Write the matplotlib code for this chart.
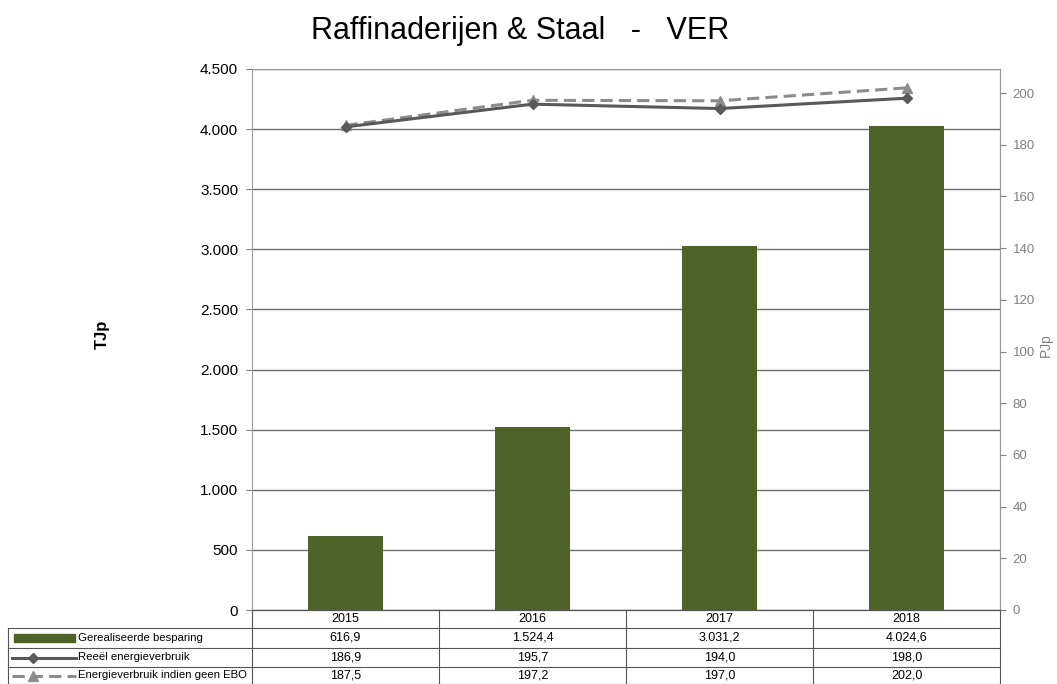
import matplotlib
matplotlib.use("Agg")
import matplotlib.pyplot as plt
from matplotlib.lines import Line2D
from matplotlib.patches import Rectangle

plt.rcParams['font.family'] = ['Liberation Sans', 'DejaVu Sans']

years = ["2015", "2016", "2017", "2018"]
besparing = [616.9, 1524.4, 3031.2, 4024.6]
reeel = [186.9, 195.7, 194.0, 198.0]
zonder_ebo = [187.5, 197.2, 197.0, 202.0]
series_names = ["Gerealiseerde besparing", "Reeël energieverbruik", "Energieverbruik indien geen EBO"]
fmt_bes = ["616,9", "1.524,4", "3.031,2", "4.024,6"]
fmt_reeel = ["186,9", "195,7", "194,0", "198,0"]
fmt_ebo = ["187,5", "197,2", "197,0", "202,0"]

W, H = 1057, 684
fig = plt.figure(figsize=(W / 100, H / 100), dpi=100)

def fx(px):
    return px / W

def fy(py):
    return 1 - py / H

L, R, T, B = 252, 1000, 69, 610
ax = fig.add_axes([fx(L), fy(B), fx(R) - fx(L), fy(T) - fy(B)])
x = list(range(len(years)))
bar_c = "#4F6228"
ax.bar(x, besparing, width=0.4, color=bar_c, zorder=3)
ax.set_xlim(-0.5, 3.5)
ax.set_ylim(0, 4500)
ax.set_yticks(range(0, 4501, 500))
ax.set_yticklabels(["0", "500", "1.000", "1.500", "2.000", "2.500", "3.000", "3.500", "4.000", "4.500"], fontsize=11)
ax.yaxis.grid(True, color="#6E6E6E", linewidth=1.0, zorder=0)
ax.set_axisbelow(True)
ax.set_xticks([])
ax.tick_params(axis='y', length=4, color="#808080", pad=6)
for s in ["top", "right", "left"]:
    ax.spines[s].set_color("#9A9A9A")
ax.spines["bottom"].set_color("#333333")

ax2 = ax.twinx()
ax2.plot(x, reeel, color="#595959", linewidth=2.2, marker="D", markersize=5, zorder=5)
ax2.plot(x, zonder_ebo, color="#8C8C8C", linewidth=2.2, linestyle=(0, (4, 2)), marker="^", markersize=7, zorder=4)
ax2.set_ylim(0, 209.3)
ax2.set_yticks(range(0, 201, 20))
ax2.tick_params(axis='y', length=4, color="#808080", labelcolor="#808080", labelsize=9.5, pad=5)
ax2.spines["right"].set_color("#9A9A9A")
for s in ["top", "left", "bottom"]:
    ax2.spines[s].set_visible(False)

fig.text(fx(102), fy(334), "TJp", rotation=90, ha="center", va="center", fontsize=12, fontweight="bold")
fig.text(fx(1046), fy(345), "PJp", rotation=90, ha="center", va="center", fontsize=10, color="#808080")
fig.text(fx(520), fy(31), "Raffinaderijen & Staal   -   VER", ha="center", va="center", fontsize=22)

# data table
line_c = "#555555"
cols = [252, 439, 626, 813, 1000]
rows = [610, 628, 648, 667, 684]
tx0 = 8
lw = 0.8
fig.add_artist(Line2D([fx(L), fx(R)], [fy(rows[0]), fy(rows[0])], color=line_c, lw=lw))
for r in rows[1:]:
    fig.add_artist(Line2D([fx(tx0), fx(R)], [fy(r), fy(r)], color=line_c, lw=lw))
for c in cols:
    fig.add_artist(Line2D([fx(c), fx(c)], [fy(rows[0]), fy(rows[-1])], color=line_c, lw=lw))
fig.add_artist(Line2D([fx(tx0), fx(tx0)], [fy(rows[1]), fy(rows[-1])], color=line_c, lw=lw))

for i, yv in enumerate(years):
    fig.text(fx((cols[i] + cols[i + 1]) / 2), fy((rows[0] + rows[1]) / 2), yv, ha="center", va="center", fontsize=9)
vals = [fmt_bes, fmt_reeel, fmt_ebo]
for j in range(3):
    yc = fy((rows[j + 1] + rows[j + 2]) / 2)
    for i in range(4):
        fig.text(fx((cols[i] + cols[i + 1]) / 2), yc, vals[j][i], ha="center", va="center", fontsize=9)
    fig.text(fx(78), yc, series_names[j], ha="left", va="center", fontsize=8.2)

# legend keys
yc0 = (rows[1] + rows[2]) / 2
fig.add_artist(Rectangle((fx(14), fy(yc0 + 4)), fx(75) - fx(14), fy(yc0 - 4) - fy(yc0 + 4), color=bar_c))
yc1 = (rows[2] + rows[3]) / 2
fig.add_artist(Line2D([fx(12), fx(76)], [fy(yc1), fy(yc1)], color="#595959", lw=2.2))
fig.add_artist(Line2D([fx(33)], [fy(yc1)], color="#595959", marker="D", markersize=5))
yc2 = (rows[3] + rows[4]) / 2
fig.add_artist(Line2D([fx(12), fx(76)], [fy(yc2), fy(yc2)], color="#8C8C8C", lw=2.2, linestyle=(0, (4, 2))))
fig.add_artist(Line2D([fx(33)], [fy(yc2)], color="#8C8C8C", marker="^", markersize=7))

fig.savefig("out.png", dpi=100)
